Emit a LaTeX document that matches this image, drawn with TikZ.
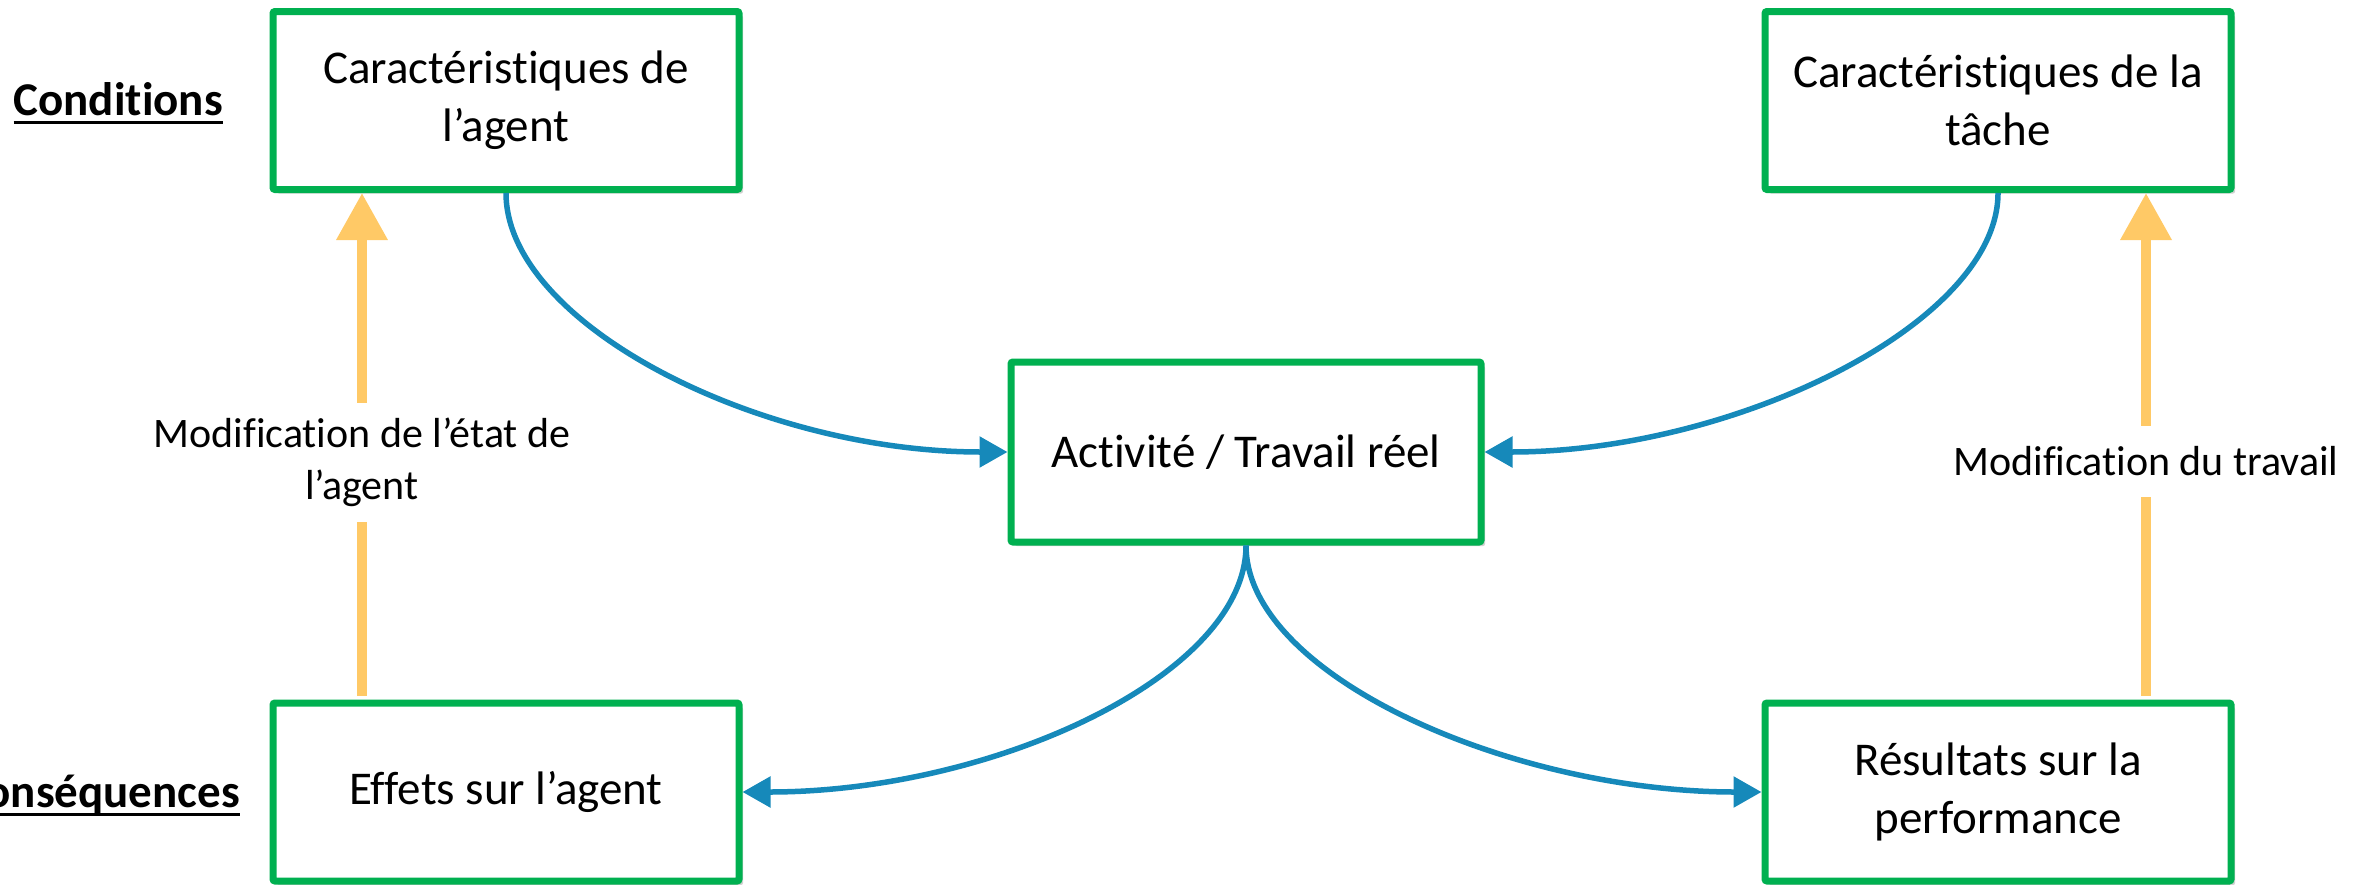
\documentclass[tikz,border=0pt]{standalone}
\usepackage{fontspec}
\setmainfont{Carlito}[Ligatures=NoCommon]
\usetikzlibrary{arrows.meta,shadows}
\definecolor{boxgreen}{RGB}{0,176,80}
\definecolor{flowblue}{HTML}{1689BA}
\definecolor{fbyellow}{HTML}{FFC966}
\newcommand{\myul}[1]{\setbox0=\hbox{#1}\rlap{\rule[-8.5pt]{\wd0}{3pt}}\box0}
\begin{document}
\begin{tikzpicture}[x=1pt,y=-1pt,
  box/.style={draw=boxgreen, line width=7pt, fill=white, rounded corners=2pt,
    minimum width=466pt, minimum height=178pt, inner sep=0pt, align=center,
    font=\fontsize{47}{58}\selectfont,
    drop shadow={shadow xshift=4pt, shadow yshift=-4pt, opacity=0.3, fill=black!60}},
  flow/.style={draw=flowblue, line width=5.5pt, -{Triangle[length=28pt,width=30pt]}},
  feedback/.style={draw=fbyellow, line width=10pt, -{Triangle[length=47pt,width=49pt]}, shorten <=3.5pt},
  lab/.style={fill=white, align=center, font=\fontsize{42}{52}\selectfont, inner xsep=4pt, text=black},
  side/.style={font=\fontsize{47}{56}\selectfont\bfseries, anchor=base east, inner sep=0pt}
]
\useasboundingbox (0,0) rectangle (2376,884);

\node[box] (A) at (506,100.5) {Caractéristiques de\\l’agent};
\node[box] (B) at (1998,100.5) {Caractéristiques de la\\tâche};
\node[box, minimum width=470pt, minimum height=180pt] (C) at (1246,452) {Activité / Travail réel};
\node[box] (D) at (506,792) {Effets sur l’agent};
\node[box] (E) at (1998,792) {Résultats sur la\\performance};

\node[side] (cond) at (223,115) {\myul{Conditions}};
\node[side] (cons) at (240,807) {\myul{Conséquences}};

\draw[flow] (A.south) .. controls +(0,130) and +(-250,0) .. (C.west);
\draw[flow] (B.south) .. controls +(0,130) and +(250,0) .. (C.east);
\draw[flow] (C.south) .. controls +(0,130) and +(250,0) .. (D.east);
\draw[flow] (C.south) .. controls +(0,130) and +(-250,0) .. (E.west);

\draw[feedback] ([xshift=-144pt]D.north) -- ([xshift=-144pt]A.south)
  node[lab, pos=0.468, inner ysep=15pt] (labA) {Modification de l’état de\\l’agent};
\draw[feedback] ([xshift=148pt]E.north) -- ([xshift=148pt]B.south)
  node[lab, pos=0.47, inner ysep=21pt] (labB) {Modification du travail};
\end{tikzpicture}
\end{document}
